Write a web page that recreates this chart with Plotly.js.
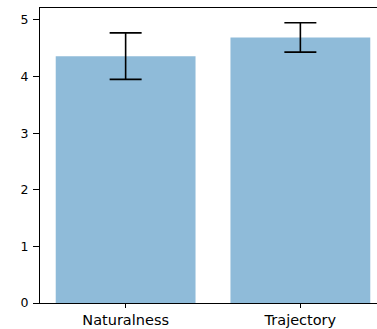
<!DOCTYPE html>
<html>
<head>
<meta charset="utf-8">
<script src="https://cdn.plot.ly/plotly-3.0.1.min.js"></script>
<style>html,body{margin:0;padding:0;overflow:hidden;background:#fff;width:377px;height:329px;}</style>
</head>
<body>
<div id="chart" style="width:390px;height:329px;"></div>
<script>
var categories = ["Naturalness", "Trajectory"];
var means = [4.36, 4.69];
var errors = [0.41, 0.26];
var yTicks = [0, 1, 2, 3, 4, 5];

var trace = {
  type: "bar",
  x: [0, 1],
  y: means,
  width: 0.8,
  marker: {color: "rgba(31,119,180,0.5)", line: {width: 0}},
  error_y: {type: "data", array: errors, visible: true, color: "#000", thickness: 1.6, width: 16},
  hoverinfo: "none"
};

var layout = {
  width: 390, height: 329,
  margin: {l: 40, r: 4, t: 8, b: 26, pad: 0},
  paper_bgcolor: "#fff", plot_bgcolor: "#fff",
  showlegend: false,
  font: {family: "DejaVu Sans", color: "#000"},
  xaxis: {
    range: [-0.49, 1.49],
    tickvals: [0, 1], ticktext: categories,
    ticks: "outside", ticklen: 4, tickwidth: 1, tickcolor: "#000",
    showline: true, linecolor: "#000", linewidth: 1, mirror: true,
    showgrid: false, zeroline: false,
    tickfont: {size: 14.5, family: "DejaVu Sans", color: "#000"}
  },
  yaxis: {
    range: [0, 5.21],
    tickvals: yTicks, ticktext: yTicks.map(String),
    ticks: "outside", ticklen: 6, tickwidth: 1, tickcolor: "#000",
    ticklabelstandoff: 2,
    showline: true, linecolor: "#000", linewidth: 1,
    showgrid: false, zeroline: false,
    tickfont: {size: 12.5, family: "DejaVu Sans", color: "#000"}
  }
};

Plotly.newPlot("chart", [trace], layout, {staticPlot: true, displayModeBar: false});
</script>
</body>
</html>
